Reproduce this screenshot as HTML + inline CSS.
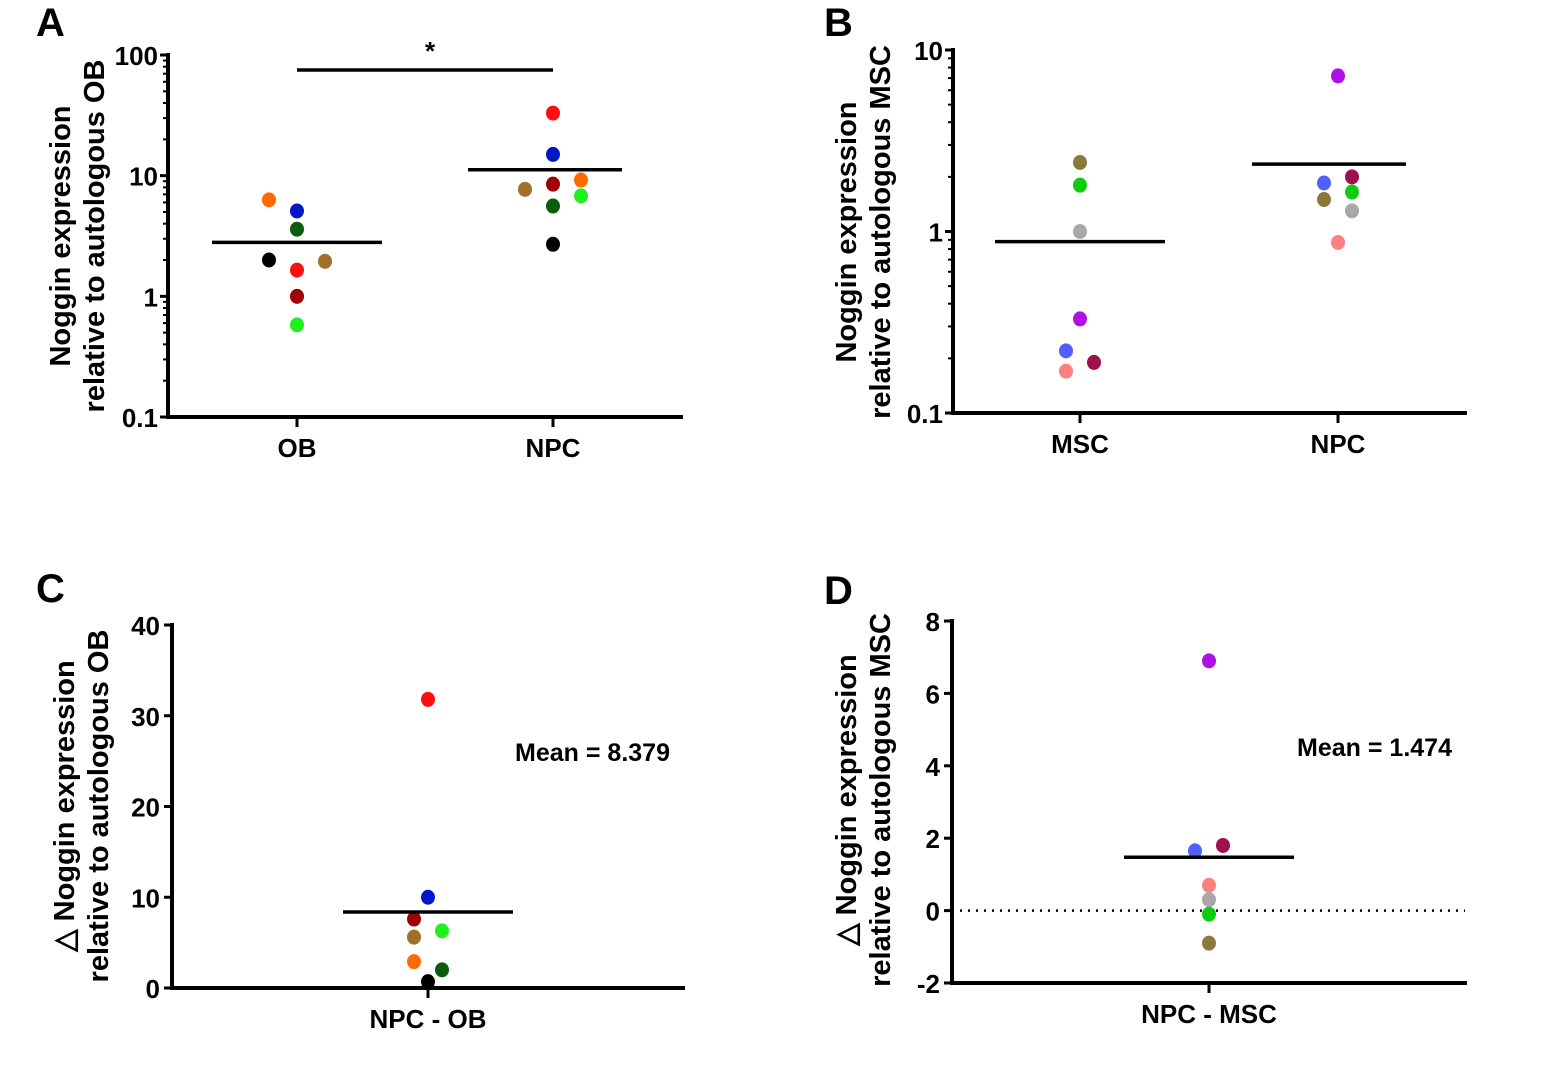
<!DOCTYPE html>
<html><head><meta charset="utf-8"><style>
body{margin:0;background:#fff}
svg text{font-family:"Liberation Sans",sans-serif;font-weight:bold;fill:#000}
</style></head><body>
<svg id="fig" width="1545" height="1061" viewBox="0 0 1545 1061" xmlns="http://www.w3.org/2000/svg"></svg>
<script>
// Panel A data
const aCats=["OB","NPC"];
const aOBVals=[6.3,5.1,3.6,2.0,1.65,1.95,1.0,0.58];
const aOBOff=[-1,0,0,-1,0,1,0,0];
const aNPCVals=[33,15,7.7,8.5,9.2,6.8,5.6,2.7];
const aNPCOff=[0,0,-1,0,1,1,0,0];
const aColsOB=["#ff6a00","#0018c8","#0b5c0b","#000","#ff1010","#a0702a","#a00000","#20f020"];
const aColsNPC=["#ff1010","#0018c8","#a0702a","#a00000","#ff6a00","#20f020","#0b5c0b","#000"];
const aMeans=[2.8,11.2];
const aTicks=[0.1,1,10,100];
// Panel B data
const bCats=["MSC","NPC"];
const bMSCVals=[2.4,1.8,1.0,0.33,0.22,0.19,0.17];
const bMSCOff=[0,0,0,0,-1,1,-1];
const bNPCVals=[7.2,2.0,1.85,1.65,1.5,1.3,0.87];
const bNPCOff=[0,1,-1,1,-1,1,0];
const bColsMSC=["#8a7a3a","#10cc10","#a8a8a8","#b010e8","#5060ff","#a0104a","#ff8080"];
const bColsNPC=["#b010e8","#a0104a","#5060ff","#10cc10","#8a7a3a","#a8a8a8","#ff8080"];
const bMeans=[0.88,2.35];
const bTicks=[0.1,1,10];
// Panel C data
const cVals=[31.8,10,7.6,5.6,6.3,2.9,2.0,0.7];
const cOff=[0,0,-1,-1,1,-1,1,0];
const cCols=["#ff1010","#0018c8","#a00000","#a0702a","#20f020","#ff6a00","#0b5c0b","#000"];
const cMean=8.379;
const cTicks=[0,10,20,30,40];
// Panel D data
const dVals=[6.9,1.8,1.65,0.7,0.3,-0.1,-0.9];
const dOff=[0,1,-1,0,0,0,0];
const dCols=["#b010e8","#a0104a","#5060ff","#ff8080","#a8a8a8","#10cc10","#8a7a3a"];
const dMean=1.474;
const dTicks=[-2,0,2,4,6,8];

const svg=document.getElementById('fig');
const NS="http://www.w3.org/2000/svg";
function el(tag,attrs,parent){const e=document.createElementNS(NS,tag);for(const k in attrs)e.setAttribute(k,attrs[k]);(parent||svg).appendChild(e);return e;}
function txt(x,y,s,size,anchor,parent,rot){const t=el('text',{x:x,y:y,'font-size':size,'text-anchor':anchor||'middle'},parent);if(rot)t.setAttribute('transform',rot);t.textContent=s;return t;}

function logY(y0,y1,lo,hi){return v=>y1-(Math.log10(v)-Math.log10(lo))/(Math.log10(hi)-Math.log10(lo))*(y1-y0);}
function linY(y0,y1,lo,hi){return v=>y1-(v-lo)/(hi-lo)*(y1-y0);}

function axes(g,ax,y0,y1,x2){
  const yl=el('line',{x1:ax,y1:y0-2,x2:ax,y2:y1+2,stroke:'#000','stroke-width':4},g);
  
  const xl=el('line',{x1:ax-2,y1:y1,x2:x2,y2:y1,stroke:'#000','stroke-width':4},g);
  
}
function dot(g,x,y,c){const d=el('ellipse',{cx:x,cy:y,rx:7,ry:7.5,fill:c},g);}
function meanLine(g,xc,y,hw){const m=el('line',{x1:xc-hw,y1:y,x2:xc+hw,y2:y,stroke:'#000','stroke-width':3.5},g);}
function logTicks(g,ax,Y,ticks){
  for(let i=0;i<ticks.length;i++){
    const t=ticks[i];const y=Y(t);
    el('line',{x1:ax-8,y1:y,x2:ax,y2:y,stroke:'#000','stroke-width':3},g);
    const lab=txt(ax-10,y+10,String(t),26,'end',g);
    if(i<ticks.length-1)for(let k=2;k<10;k++){const yy=Y(t*k);el('line',{x1:ax-5,y1:yy,x2:ax,y2:yy,stroke:'#000','stroke-width':2},g);}
  }
}
function linTicks(g,ax,Y,ticks){
  for(const t of ticks){const y=Y(t);
    el('line',{x1:ax-8,y1:y,x2:ax,y2:y,stroke:'#000','stroke-width':3},g);
    const lab=txt(ax-12,y+10,String(t),26,'end',g);}
}
function xCat(g,x,y1,label){el('line',{x1:x,y1:y1,x2:x,y2:y1+10,stroke:'#000','stroke-width':3},g);
  const t=txt(x,y1+40,label,26,'middle',g);}
function ytitle(g,x,yc,l1,l2){
  const t1=txt(0,0,l1,29,'middle',g,`translate(${x},${yc}) rotate(-90)`);
  const t2=txt(0,0,l2,29,'middle',g,`translate(${x+34},${yc}) rotate(-90)`);
}
function panelLabel(g,x,y,s){const t=txt(x,y,s,40,'start',g);}
const SP=28,SPs=14;

// Panel A
{const g=el('g',{});
 const ax=168,y0=55,y1=417,Y=logY(y0,y1,0.1,100),xs=[297,553];
 panelLabel(g,36,36,'A');axes(g,ax,y0,y1,683);logTicks(g,ax,Y,aTicks);
 aCats.forEach((c,i)=>xCat(g,xs[i],y1,c));
 ytitle(g,70,236,'Noggin expression','relative to autologous OB');
 aOBVals.forEach((v,i)=>dot(g,xs[0]+aOBOff[i]*SP,Y(v),aColsOB[i]));
 aNPCVals.forEach((v,i)=>dot(g,xs[1]+aNPCOff[i]*SP,Y(v),aColsNPC[i]));
 meanLine(g,xs[0],Y(aMeans[0]),85);
 meanLine(g,xs[1]-8,Y(aMeans[1]),77);
 const s=el('line',{x1:xs[0],y1:70,x2:xs[1],y2:70,stroke:'#000','stroke-width':3.5},g);
 const st=txt(430,60,'*',26,'middle',g);}

// Panel B
{const g=el('g',{});
 const ax=953,y0=50,y1=413,Y=logY(y0,y1,0.1,10),xs=[1080,1338];
 panelLabel(g,824,36,'B');axes(g,ax,y0,y1,1467);logTicks(g,ax,Y,bTicks);
 bCats.forEach((c,i)=>xCat(g,xs[i],y1,c));
 ytitle(g,856,232,'Noggin expression','relative to autologous MSC');
 bMSCVals.forEach((v,i)=>dot(g,xs[0]+bMSCOff[i]*SPs,Y(v),bColsMSC[i]));
 bNPCVals.forEach((v,i)=>dot(g,xs[1]+bNPCOff[i]*SPs,Y(v),bColsNPC[i]));
 meanLine(g,xs[0],Y(bMeans[0]),85);
 meanLine(g,xs[1]-9,Y(bMeans[1]),77);}

// Panel C
{const g=el('g',{});
 const ax=172,y0=625,y1=988,Y=linY(y0,y1,0,40),xc=428;
 panelLabel(g,36,602,'C');axes(g,ax,y0,y1,685);linTicks(g,ax,Y,cTicks);
 xCat(g,xc,y1,'NPC - OB');
 ytitle(g,74,806,'△ Noggin expression','relative to autologous OB');
 cVals.forEach((v,i)=>dot(g,xc+cOff[i]*SPs,Y(v),cCols[i]));
 meanLine(g,xc,Y(cMean),85);
 const mt=txt(670,761,'Mean = '+cMean,25,'end',g);}

// Panel D
{const g=el('g',{});
 const ax=952,y0=621,y1=983,Y=linY(y0,y1,-2,8),xc=1209;
 panelLabel(g,824,604,'D');axes(g,ax,y0,y1,1467);linTicks(g,ax,Y,dTicks);
 xCat(g,xc,y1,'NPC - MSC');
 ytitle(g,856,800,'△ Noggin expression','relative to autologous MSC');
 const z=el('line',{x1:ax,y1:Y(0),x2:1465,y2:Y(0),stroke:'#000','stroke-width':2.5,'stroke-dasharray':'2 6'},g);
 dVals.forEach((v,i)=>dot(g,xc+dOff[i]*SPs,Y(v),dCols[i]));
 meanLine(g,xc,Y(dMean),85);
 const mt=txt(1452,756,'Mean = '+dMean,25,'end',g);}
</script>
</body></html>
